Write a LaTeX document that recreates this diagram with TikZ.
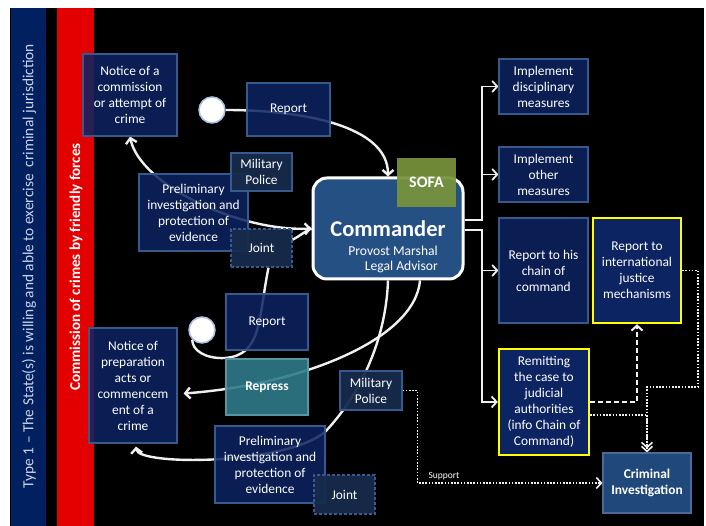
\documentclass[tikz,border=0pt]{standalone}
\usepackage{fontspec}
\setmainfont{Carlito}
\usetikzlibrary{arrows.meta,calc}
\definecolor{navybox}{RGB}{13,36,98}
\definecolor{boxline}{RGB}{55,90,140}
\definecolor{slate}{RGB}{23,43,76}
\definecolor{cmdfill}{RGB}{37,80,132}
\definecolor{sofagreen}{RGB}{119,147,60}
\definecolor{repteal}{RGB}{47,123,138}
\definecolor{crimfill}{RGB}{33,72,122}
\definecolor{barnavy}{RGB}{0,32,96}
\definecolor{barred}{RGB}{226,0,0}
\definecolor{ylw}{RGB}{255,255,0}
\definecolor{linecol}{RGB}{240,240,240}
\definecolor{circline}{RGB}{170,190,230}
\definecolor{bartext}{RGB}{205,212,230}
\pgfdeclarelayer{bglayer}
\pgfdeclarelayer{linelayer}
\pgfsetlayers{bglayer,linelayer,main}
\newcommand{\boxfont}{\fontsize{13.4}{16}\selectfont}
\tikzset{
  box/.style={draw=boxline, line width=1.2pt, fill=navybox, fill opacity=0.86, text opacity=1, text=white, align=center, font=\boxfont, inner sep=1pt},
  ybox/.style={box, draw=ylw, line width=2.4pt, fill opacity=1},
  mpbox/.style={box, fill=slate, fill opacity=0.95},
  jointbox/.style={box, fill=slate, fill opacity=0.95, dash pattern=on 3pt off 2pt},
  cmdbox/.style={draw=white, line width=3pt, fill=cmdfill, rounded corners=14pt},
  sofabox/.style={fill=sofagreen, fill opacity=0.93, text opacity=1, text=white, font=\fontsize{16}{18}\selectfont\bfseries, inner sep=0pt},
  repbox/.style={box, fill=repteal, draw=repteal!80!white, fill opacity=0.9, font=\boxfont\bfseries},
  crimbox/.style={box, fill=crimfill, draw=boxline!90!white, fill opacity=1, font=\boxfont\bfseries},
  circ/.style={circle, fill=white, draw=circline, line width=1.5pt, minimum size=26pt, inner sep=0pt},
  conn/.style={draw=linecol, line width=2.4pt},
  ortho/.style={draw=linecol, line width=1.8pt},
  dashline/.style={draw=linecol, line width=2pt, dash pattern=on 5pt off 3pt},
  dotline/.style={draw=linecol, line width=1.6pt, dash pattern=on 1.6pt off 1.6pt},
}
\begin{document}
\begin{tikzpicture}[x=1pt,y=-1pt, >={Straight Barb[length=5pt,width=11pt]}]
\useasboundingbox (0,0) rectangle (706,526);
\begin{pgfonlayer}{bglayer}
  \fill[white] (0,0) rectangle (706,526);
  \fill[black] (10,8) rectangle (704,526);
  \fill[barnavy] (11,8) rectangle (46,526);
  \fill[barred] (57,8) rectangle (94,526);
\end{pgfonlayer}
\node[rotate=90, text=bartext, font=\fontsize{15.4}{18}\selectfont] (typetxt) at (29,266) {Type 1 -- The State(s) is willing and able to exercise\ \ criminal jurisdiction};
\node[rotate=90, text=white, font=\fontsize{15}{18}\selectfont\bfseries] (commtxt) at (76,267) {Commission of crimes by friendly forces};

% upper left
\node[box, minimum width=94pt, minimum height=82pt] (n1) at (130,95) {Notice of a\\commission\\or attempt of\\crime};
\node[circ] (c1) at (212,110) {};
\node[box, minimum width=83pt, minimum height=53pt] (r1) at (288.5,109.5) {Report};
\node[box, minimum width=109pt, minimum height=77pt] (pre1) at (193.5,212.5) {Preliminary\\investigation and\\protection of\\evidence};
\node[mpbox, minimum width=61pt, minimum height=38pt] (m1) at (261.5,172) {Military\\Police};
\node[jointbox, minimum width=61pt, minimum height=38pt] (j1) at (261.5,248) {Joint};

% commander
\node[cmdbox, minimum width=150pt, minimum height=101pt] (cmd) at (388,228.5) {};
\node[sofabox, minimum width=59pt, minimum height=49pt] (sofa) at (426.5,182.5) {SOFA};
\node[anchor=base, text=white, font=\fontsize{22.5}{26}\selectfont\bfseries, inner sep=0pt] (cmdt) at (388,237) {Commander};
\node[anchor=base east, text=white, font=\fontsize{13.6}{16}\selectfont, inner sep=0pt] (cmdpm) at (438,256) {Provost Marshal};
\node[anchor=base east, text=white, font=\fontsize{13.6}{16}\selectfont, inner sep=0pt] (cmdla) at (438,271) {Legal Advisor};

% right column
\node[box, minimum width=89pt, minimum height=55pt] (imp1) at (543.5,86.5) {Implement\\disciplinary\\measures};
\node[box, minimum width=89pt, minimum height=55pt] (imp2) at (543.5,174.5) {Implement\\other\\measures};
\node[box, minimum width=89pt, minimum height=105pt] (rep) at (543.5,270.5) {Report to his\\chain of\\command};
\node[ybox, minimum width=88pt, minimum height=105pt] (rint) at (637,270.5) {Report to\\international\\justice\\mechanisms};
\node[ybox, minimum width=90pt, minimum height=106pt] (rem) at (544,402) {Remitting\\the case to\\judicial\\authorities\\(info Chain of\\Command)};
\node[crimbox, minimum width=88pt, minimum height=60pt] (crim) at (647,483) {Criminal\\Investigation};

% lower left
\node[circ] (c2) at (202,330) {};
\node[box, minimum width=82pt, minimum height=56pt] (r2) at (267,322) {Report};
\node[repbox, minimum width=82pt, minimum height=56pt] (rpr) at (267,387) {Repress};
\node[box, minimum width=88pt, minimum height=115pt] (n2) at (133,385.5) {Notice of\\preparation\\acts or\\commencem\\ent of a\\crime};
\node[mpbox, minimum width=62pt, minimum height=39pt] (m2) at (371,390.5) {Military\\Police};
\node[box, minimum width=110pt, minimum height=77pt] (pre2) at (270,464.5) {Preliminary\\investigation and\\protection of\\evidence};
\node[jointbox, minimum width=61pt, minimum height=39pt] (j2) at (344.5,494.5) {Joint};
\node[text=white, font=\fontsize{9.5}{11}\selectfont, inner sep=0pt] (sup) at (444,476) {Support};

\coordinate (busU) at (482,220);
\coordinate (busD) at (482,230);
\coordinate (dA) at (698,387);

\begin{pgfonlayer}{linelayer}
  \draw[conn,->] (c1.east) .. controls (300,110) and (388,125) .. (cmd.north);
  \draw[conn,<->] (n1.south) .. controls (140,185) and (240,232) .. (cmd.west);
  \draw[conn] (j1.15) .. controls (300,236) and (305,231) .. (cmd.west);
  \draw[conn] ($(j1.south)+(7,0)$) .. controls (258,320) and (262,355) .. (225,358) .. controls (205,359) and (192,350) .. (c2.south west);
  \draw[conn,->] ($(cmd.south)+(32,0)$) .. controls (415,340) and (300,385) .. ($(n2.east)+(6,8)$);
  \draw[conn,->] (cmd.south) .. controls (386,340) and (360,395) .. (325,432) .. controls (285,465) and (138,466) .. ($(n2.south)+(3,3)$);
  \draw[ortho,->] (cmd.east |- busU) -- (busU) |- (imp1.west);
  \draw[ortho,->] (busU) |- (imp2.west);
  \draw[ortho,->] (cmd.east |- busD) -- (busD) |- (rep.west);
  \draw[ortho,->] (busD) |- (rem.west);
  \draw[dashline,->] (rem.east) -| (rint.south);
  \draw[dotline,->] ($(rem.east)+(0,13)$) -| ($(crim.north)+(0,-4)$);
  \draw[dotline,->] (rint.east) -| (dA) -| (crim.north);
  \draw[dotline,->] (m2.east) -- ++(15,0) |- (crim.west);
\end{pgfonlayer}
\end{tikzpicture}
\end{document}
